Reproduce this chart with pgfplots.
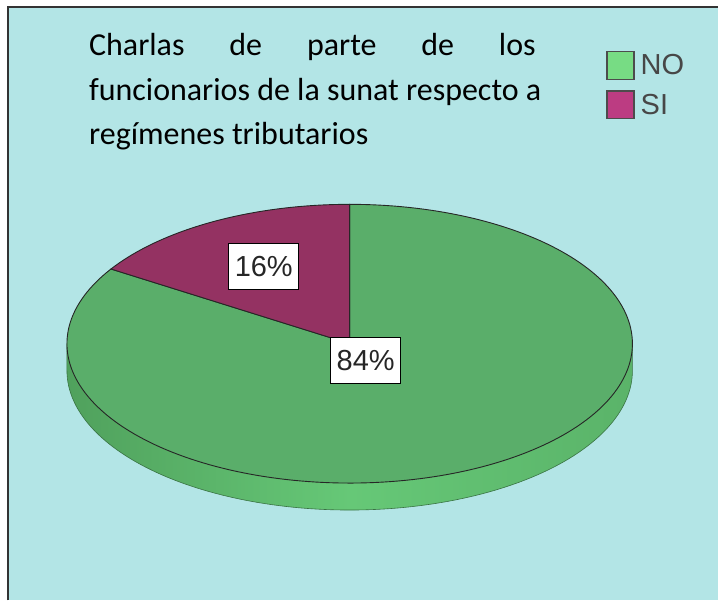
\documentclass[border=0pt]{standalone}
\usepackage{pgfplots}
\pgfplotsset{compat=1.18}
\usepackage{pgfplotstable}
\usepackage{fontspec}
\newfontfamily\carlito{Carlito}
\newfontfamily\arialf{Liberation Sans}
\definecolor{bgcyan}{HTML}{B3E5E6}
\definecolor{pieNO}{HTML}{5AAE6A}
\definecolor{pieSI}{HTML}{943262}
\definecolor{sideLight}{HTML}{66C877}
\definecolor{sideDark}{HTML}{4C9A58}
\definecolor{legNO}{HTML}{77DC84}
\definecolor{legSI}{HTML}{BC3C82}
\pgfplotstableread{
label value
NO 84
SI 16
}\piedata
\pgfplotstablegetelem{0}{value}\of\piedata\let\vNO\pgfplotsretval
\pgfplotstablegetelem{1}{value}\of\piedata\let\vSI\pgfplotsretval
\pgfmathsetmacro{\aStart}{90}
\pgfmathsetmacro{\aSI}{90+3.6*\vSI}
\pgfmathsetmacro{\aNO}{\aSI+3.6*\vNO}
\def\cx{350}\def\cy{344}\def\rx{283}\def\ry{139.5}\def\dep{27}
\begin{document}%
\begin{tikzpicture}
\begin{axis}[width=719pt,height=601pt,scale only axis,
  xmin=0,xmax=719,ymin=0,ymax=601,y dir=reverse,
  hide axis, clip=false,
  legend style={at={(axis cs:607,51)}, anchor=north west, draw=none, fill=none,
    inner sep=0pt, outer sep=0pt, row sep=10pt, column sep=6pt,
    font=\arialf\fontsize{29}{29}\selectfont, text=black!72,
    nodes={inner sep=0pt}},
  legend cell align=left,
  legend image code/.code={\draw[#1, draw=black!70, line width=1.3pt] (0pt,-14pt) rectangle (27pt,14pt);}
]
\fill[white] (axis cs:0,0) rectangle (axis cs:719,601);
\fill[bgcyan] (axis cs:8,7) rectangle (axis cs:719,601);
\draw[black!80, line width=1.3pt] (axis cs:8,601) -- (axis cs:8,7) -- (axis cs:719,7);
% side of the 3D pie
\addplot[forget plot, draw=sideDark!75!black, line width=0.6pt,
  left color=sideDark!85!sideLight, right color=sideDark!45!sideLight, middle color=sideLight,
  domain=180:360, samples=120, variable=\t]
  ({\cx+\rx*cos(\t)},{\cy+\dep-\ry*sin(\t)}) -- (axis cs:633,344) -- (axis cs:67,344) -- cycle;
% top face sectors
\addplot[forget plot, fill=pieNO, draw=black!85, line width=0.9pt,
  domain=\aSI:\aNO, samples=200, variable=\t]
  ({\cx+\rx*cos(\t)},{\cy-\ry*sin(\t)}) -- (axis cs:350,344) -- cycle;
\addplot[forget plot, fill=pieSI, draw=black!85, line width=0.9pt,
  domain=\aStart:\aSI, samples=40, variable=\t]
  ({\cx+\rx*cos(\t)},{\cy-\ry*sin(\t)}) -- (axis cs:350,344) -- cycle;
\addlegendimage{fill=legNO}
\addlegendentry{NO}
\addlegendimage{fill=legSI}
\addlegendentry{SI}
\node[fill=white, draw=black, line width=0.9pt, minimum width=70pt, minimum height=46pt,
  inner sep=0pt, font=\arialf\fontsize{29}{29}\selectfont, text=black!85]
  at (axis cs:264,267) {16\%};
\node[fill=white, draw=black, line width=0.9pt, minimum width=70pt, minimum height=46pt,
  inner sep=0pt, font=\arialf\fontsize{29}{29}\selectfont, text=black!85]
  at (axis cs:366,361) {84\%};
\node[anchor=base west, inner sep=0pt, font=\carlito\fontsize{32}{32}\selectfont]
  at (axis cs:89,56) {\hbox to 447pt{Charlas\hfill de\hfill parte\hfill de\hfill los}};
\node[anchor=base west, inner sep=0pt, font=\carlito\fontsize{32}{32}\selectfont]
  at (axis cs:89,100.5) {funcionarios de la sunat respecto a};
\node[anchor=base west, inner sep=0pt, font=\carlito\fontsize{32}{32}\selectfont]
  at (axis cs:89,144.5) {regímenes tributarios};
\end{axis}
\end{tikzpicture}%
\end{document}
